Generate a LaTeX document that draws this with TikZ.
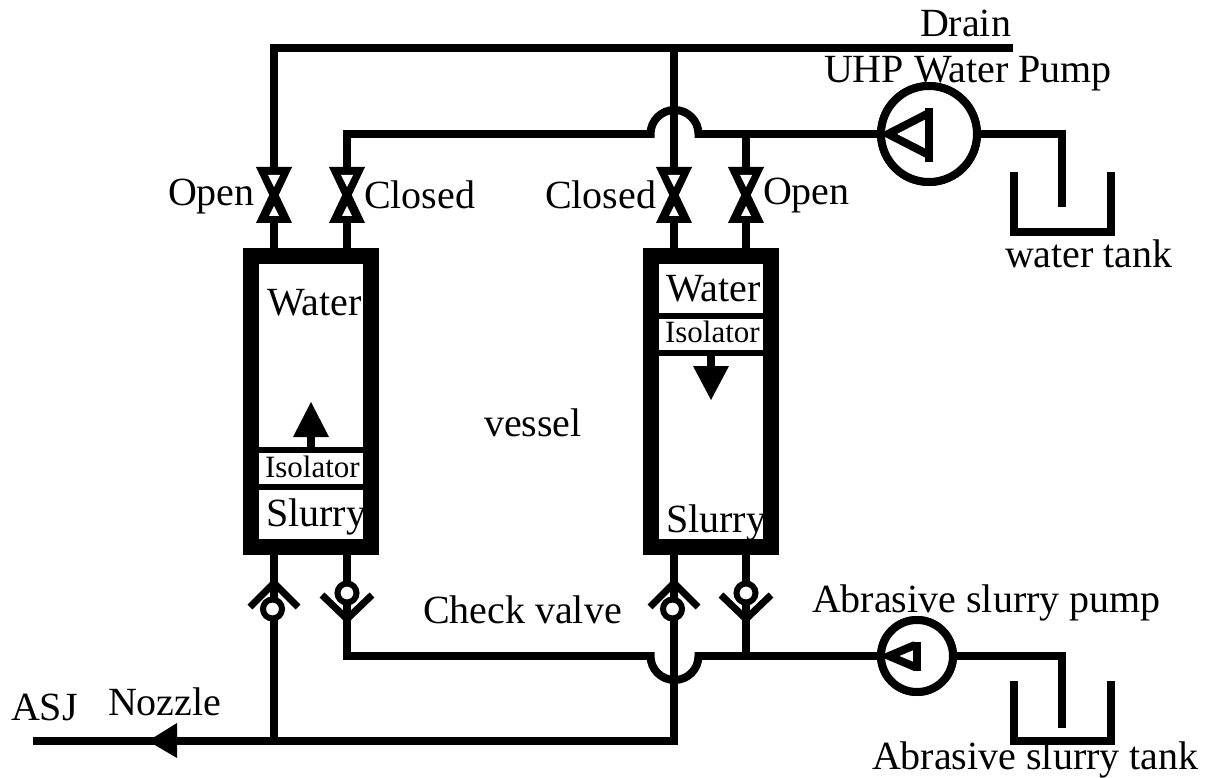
\documentclass[tikz,border=0pt]{standalone}
\usepackage{fontspec}
\setmainfont{Liberation Serif}
\begin{document}
\begin{tikzpicture}[x=1pt,y=-1pt,
  pipe/.style={line width=8pt,line join=miter},
  wall/.style={draw,line width=16pt,minimum width=120pt,minimum height=291pt,inner sep=0pt,outer sep=0pt},
  divider/.style={line width=6pt},
  pumpbody/.style={draw,circle,fill=white,inner sep=0pt,outer sep=0pt,line width=8pt},
  cv/.style={line width=7pt,line join=miter},
  lbl/.style={anchor=base west,inner sep=0pt,outer sep=0pt,font=\fontsize{40}{40}\selectfont},
  small/.style={anchor=base west,inner sep=0pt,outer sep=0pt,font=\fontsize{31}{31}\selectfont},
  valve/.pic={
    \fill (-18,-28) -- (18,-28) -- (0,10) -- cycle;
    \fill (-18,28) -- (18,28) -- (0,-10) -- cycle;
    \fill[white] (-6,-20) -- (6,-20) -- (0,-8) -- cycle;
    \fill[white] (-5,21) -- (5,21) -- (0,11) -- cycle;
  },
  checkup/.pic={
    \draw[cv] (-24,19) -- (0,-5) -- (24,19);
    \draw[line width=6pt,fill=white] (-1.5,21) circle (9.5);
  },
  checkdown/.pic={
    \draw[cv] (-25,-19) -- (0,5) -- (25,-19);
    \draw[line width=6pt,fill=white] (0,-21) circle (9.5);
  }]
\useasboundingbox (0,0) rectangle (1207,778);
% junction coordinates
\coordinate (topL) at (274,48); \coordinate (topM) at (674,48); \coordinate (topE) at (1013,48);
\coordinate (midL) at (347,134); \coordinate (midR) at (746,134);
\coordinate (lowL) at (347,656); \coordinate (lowR) at (746,656);
\coordinate (botE) at (33,741); \coordinate (botL) at (274,741); \coordinate (botM) at (674,741);
\coordinate (wIn) at (1062,134); \coordinate (wEnd) at (1062,207);
\coordinate (sIn) at (1062,656); \coordinate (sEnd) at (1062,728);
\node[pumpbody,minimum size=96pt] (pumpW) at (929,134) {};
\node[pumpbody,minimum size=72pt] (pumpS) at (917,656) {};
% pipes
\draw[pipe] (topE) -- (topL) -- (274,250);
\draw[pipe] (topM) -- (674,250);
\draw[pipe] (347,250) -- (midL) -- (650.5,134);
\draw[pipe] (650.5,138) -- (650.5,134) arc[start angle=180,end angle=360,radius=24] -- (698.5,138);
\draw[pipe] (698.5,134) -- (pumpW.west);
\draw[pipe] (midR) -- (746,250);
\draw[pipe] (pumpW.east) -- (wIn) -- (wEnd);
\draw[pipe] (274,555) -- (botL);
\draw[pipe] (botE) -- (botM) -- (674,555);
\draw[pipe] (347,555) -- (lowL) -- (650.5,656);
\draw[pipe] (650.5,652) -- (650.5,656) arc[start angle=180,end angle=0,radius=24] -- (698.5,652);
\draw[pipe] (698.5,656) -- (pumpS.west);
\draw[pipe] (lowR) -- (746,555);
\draw[pipe] (pumpS.east) -- (sIn) -- (sEnd);
% pump bodies again over the pipes, with their triangles
\node[pumpbody,minimum size=96pt] at (929,134) {};
\node[pumpbody,minimum size=72pt] at (917,656) {};
\draw[pipe] (929,108) -- (929,162);
\draw[pipe] (929,113) -- (888,134) -- (929,155);
\draw[pipe] (917,642) -- (917,671);
\draw[pipe] (915,645) -- (889,656) -- (915,667);
% tanks
\draw[pipe] (1014,172) -- (1014,232) -- (1111,232) -- (1111,172);
\draw[pipe] (1014,681) -- (1014,741) -- (1111,741) -- (1111,681);
% vessels
\node[wall] (vL) at (311,401.5) {};
\node[wall] (vR) at (710.5,401.5) {};
\draw[divider] (258,450) -- (364,450);
\draw[divider] (258,486.5) -- (364,486.5);
\draw[divider] (658,316) -- (763,316);
\draw[divider] (658,353) -- (763,353);
% isolator arrows
\fill (311,402) -- (329,437) -- (293,437) -- cycle;
\draw[pipe] (311,436) -- (311,450);
\fill (711,400) -- (729,366) -- (693,366) -- cycle;
\draw[pipe] (711,353) -- (711,368);
% outlet arrow
\fill (148,741) -- (177,723) -- (177,758) -- cycle;
% valves
\pic at (274,195) {valve};
\pic at (347,195) {valve};
\pic at (674,195) {valve};
\pic at (746,195) {valve};
\pic at (274,588) {checkup};
\pic at (674,588) {checkup};
\pic at (347,614) {checkdown};
\pic at (746,614) {checkdown};
% labels
\node[lbl] (tDrain) at (920,36.5) {Drain};
\node[lbl] (tUHP) at (824,83) {UHP Water Pump};
\node[lbl] (tOpenL) at (168,206) {Open};
\node[lbl] (tClosedL) at (364,208) {Closed};
\node[lbl] (tClosedR) at (545,208) {Closed};
\node[lbl] (tOpenR) at (763,205) {Open};
\node[lbl] (tWaterTank) at (1005,267) {water tank};
\node[lbl] (tWaterL) at (267,315) {Water};
\node[lbl] (tWaterR) at (666,301) {Water};
\node[small] (tIsoR) at (665,342) {Isolator};
\node[small] (tIsoL) at (265,477) {Isolator};
\node[lbl] (tSlurryL) at (266,526) {Slurry};
\node[lbl] (tSlurryR) at (666,532) {Slurry};
\node[lbl] (tVessel) at (484,436) {vessel};
\node[lbl] (tCheck) at (423,623) {Check valve};
\node[lbl] (tAP) at (812,612) {Abrasive slurry pump};
\node[lbl] (tAT) at (872,769) {Abrasive slurry tank};
\node[lbl] (tASJ) at (11,720) {ASJ};
\node[lbl] (tNoz) at (108,715) {Nozzle};
\end{tikzpicture}
\end{document}
